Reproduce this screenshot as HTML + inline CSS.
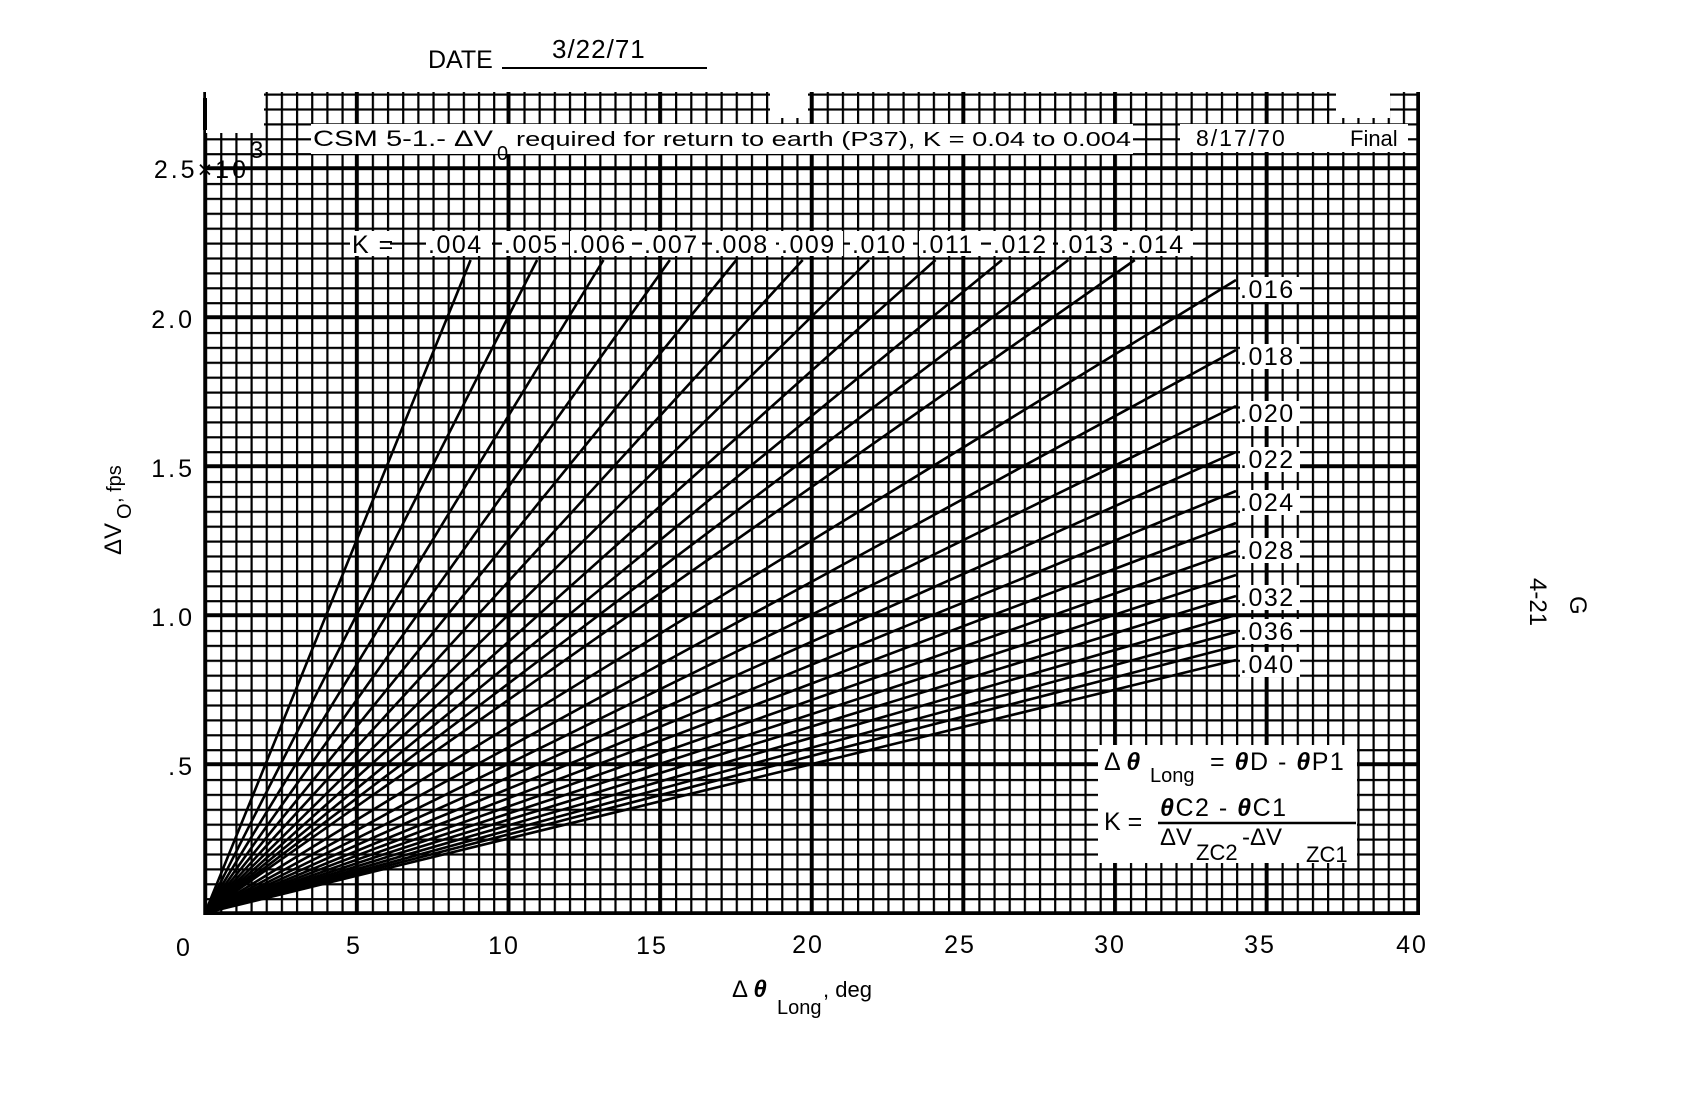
<!DOCTYPE html>
<html><head><meta charset="utf-8"><style>
html,body{margin:0;padding:0;background:#fff;}
svg{display:block;}
text{font-family:"Liberation Sans",sans-serif;fill:#000;}
</style></head><body>
<svg width="1692" height="1101" viewBox="0 0 1692 1101" xmlns="http://www.w3.org/2000/svg">
<defs>
<pattern id="g" x="205" y="913" width="15.1625" height="14.9" patternUnits="userSpaceOnUse">
<rect x="0" y="0" width="2.2" height="14.9" fill="#000"/>
<rect x="0" y="0" width="15.1625" height="2.2" fill="#000"/>
</pattern>
</defs>
<rect x="204" y="92" width="1216" height="823" fill="url(#g)"/>
<g stroke="#000" stroke-width="3.5">
<line x1="205" y1="92" x2="205" y2="915"/><line x1="356.6" y1="92" x2="356.6" y2="915"/><line x1="508.3" y1="92" x2="508.3" y2="915"/><line x1="659.9" y1="92" x2="659.9" y2="915"/><line x1="811.5" y1="92" x2="811.5" y2="915"/><line x1="963.1" y1="92" x2="963.1" y2="915"/><line x1="1114.8" y1="92" x2="1114.8" y2="915"/><line x1="1266.4" y1="92" x2="1266.4" y2="915"/><line x1="1418" y1="92" x2="1418" y2="915"/>
<line x1="205" y1="913" x2="1420" y2="913"/><line x1="205" y1="764" x2="1420" y2="764"/><line x1="205" y1="615" x2="1420" y2="615"/><line x1="205" y1="466" x2="1420" y2="466"/><line x1="205" y1="317" x2="1420" y2="317"/><line x1="205" y1="168" x2="1420" y2="168"/>
</g>
<rect x="206" y="88" width="58" height="45" fill="#fff"/>
<rect x="770" y="88" width="38" height="30" fill="#fff"/>
<rect x="1336" y="88" width="54" height="30" fill="#fff"/>
<line x1="205" y1="98" x2="205" y2="130" stroke="#000" stroke-width="4"/>
<g stroke="#000" stroke-width="2.6" fill="none">
<line x1="205" y1="913" x2="470.6" y2="260"/><line x1="205" y1="913" x2="537.1" y2="260"/><line x1="205" y1="913" x2="603.5" y2="260"/><line x1="205" y1="913" x2="669.9" y2="260"/><line x1="205" y1="913" x2="736.3" y2="260"/><line x1="205" y1="913" x2="802.7" y2="260"/><line x1="205" y1="913" x2="869.1" y2="260"/><line x1="205" y1="913" x2="935.5" y2="260"/><line x1="205" y1="913" x2="1002" y2="260"/><line x1="205" y1="913" x2="1068.4" y2="260"/><line x1="205" y1="913" x2="1134.8" y2="260"/>
<line x1="205" y1="913" x2="1236" y2="280"/><line x1="205" y1="913" x2="1236" y2="350"/><line x1="205" y1="913" x2="1236" y2="406"/><line x1="205" y1="913" x2="1236" y2="452"/><line x1="205" y1="913" x2="1236" y2="491"/><line x1="205" y1="913" x2="1236" y2="523"/><line x1="205" y1="913" x2="1236" y2="551"/><line x1="205" y1="913" x2="1236" y2="575"/><line x1="205" y1="913" x2="1236" y2="596"/><line x1="205" y1="913" x2="1236" y2="615"/><line x1="205" y1="913" x2="1236" y2="632"/><line x1="205" y1="913" x2="1236" y2="646"/><line x1="205" y1="913" x2="1236" y2="660"/>
</g>
<rect x="311" y="124" width="822" height="30" fill="#fff"/>
<text x="313" y="146" font-size="22" textLength="180" lengthAdjust="spacingAndGlyphs">CSM 5-1.- ΔV</text>
<text x="497" y="160" font-size="20">0</text>
<text x="516" y="146" font-size="20" textLength="615" lengthAdjust="spacingAndGlyphs">required for return to earth (P37), K = 0.04 to 0.004</text>
<rect x="1180" y="124" width="228" height="28" fill="#fff"/>
<text x="1196" y="146" font-size="23" letter-spacing="2">8/17/70</text>
<text x="1350" y="146" font-size="22">Final</text>
<g fill="#fff">
<rect x="350" y="231" width="40" height="25"/><rect x="426" y="231" width="66" height="25"/><rect x="502" y="231" width="60" height="25"/><rect x="570" y="231" width="62" height="25"/><rect x="642" y="231" width="60" height="25"/><rect x="712" y="231" width="64" height="25"/><rect x="779" y="231" width="64" height="25"/><rect x="850" y="231" width="63" height="25"/><rect x="919" y="231" width="62" height="25"/><rect x="991" y="231" width="62" height="25"/><rect x="1058" y="231" width="65" height="25"/><rect x="1128" y="231" width="65" height="25"/>
</g>
<g font-size="25" letter-spacing="1.5">
<text x="352" y="253">K =</text>
<text x="428" y="253">.004</text><text x="504" y="253">.005</text><text x="572" y="253">.006</text><text x="644" y="253">.007</text><text x="714" y="253">.008</text><text x="781" y="253">.009</text><text x="852" y="253">.010</text><text x="921" y="253">.011</text><text x="993" y="253">.012</text><text x="1060" y="253">.013</text><text x="1130" y="253">.014</text>
</g>
<g fill="#fff">
<rect x="1240" y="277" width="60" height="25"/><rect x="1240" y="344" width="60" height="25"/><rect x="1240" y="401" width="60" height="25"/><rect x="1240" y="447" width="60" height="25"/><rect x="1240" y="490" width="60" height="25"/><rect x="1240" y="538" width="60" height="25"/><rect x="1240" y="585" width="60" height="25"/><rect x="1240" y="619" width="60" height="25"/><rect x="1240" y="652" width="60" height="25"/>
</g>
<g font-size="25" letter-spacing="1.5">
<text x="1240" y="298">.016</text><text x="1240" y="365">.018</text><text x="1240" y="422">.020</text><text x="1240" y="468">.022</text><text x="1240" y="511">.024</text><text x="1240" y="559">.028</text><text x="1240" y="606">.032</text><text x="1240" y="640">.036</text><text x="1240" y="673">.040</text>
</g>
<rect x="1098" y="745" width="259" height="118" fill="#fff"/>
<text x="1104" y="770" font-size="25">Δ <tspan font-weight="bold" font-style="italic">θ</tspan></text>
<text x="1150" y="782" font-size="20">Long</text>
<text x="1210" y="770" font-size="25" letter-spacing="1.5">= <tspan font-weight="bold" font-style="italic">θ</tspan>D - <tspan font-weight="bold" font-style="italic">θ</tspan>P1</text>
<text x="1104" y="830" font-size="25">K =</text>
<text x="1160" y="816" font-size="25" letter-spacing="1.5"><tspan font-weight="bold" font-style="italic">θ</tspan>C2 - <tspan font-weight="bold" font-style="italic">θ</tspan>C1</text>
<line x1="1158" y1="823" x2="1356" y2="823" stroke="#000" stroke-width="2.5"/>
<text x="1160" y="845" font-size="24">ΔV</text>
<text x="1196" y="860" font-size="22">ZC2</text>
<text x="1242" y="845" font-size="24">-ΔV</text>
<text x="1306" y="862" font-size="22">ZC1</text>
<g font-size="25" text-anchor="end" letter-spacing="3">
<text x="249" y="178">2.5×10</text>
<text x="195" y="328">2.0</text>
<text x="195" y="477">1.5</text>
<text x="195" y="626">1.0</text>
<text x="195" y="775">.5</text>
</g>
<text x="250" y="158" font-size="24">3</text>
<g font-size="25" text-anchor="middle" letter-spacing="2">
<text x="184" y="956">0</text><text x="354" y="954">5</text><text x="504" y="954">10</text><text x="652" y="954">15</text><text x="808" y="953">20</text><text x="960" y="953">25</text><text x="1110" y="953">30</text><text x="1260" y="953">35</text><text x="1412" y="953">40</text>
</g>
<text x="732" y="997" font-size="24">Δ <tspan font-weight="bold" font-style="italic">θ</tspan></text>
<text x="777" y="1014" font-size="20">Long</text>
<text x="823" y="997" font-size="22">, deg</text>
<g transform="translate(121,555) rotate(-90)">
<text x="0" y="0" font-size="24">ΔV</text>
<text x="36" y="10" font-size="20">O</text>
<text x="52" y="0" font-size="20">, fps</text>
</g>
<text x="428" y="68" font-size="25">DATE</text>
<text x="552" y="58" font-size="26" letter-spacing="1">3/22/71</text>
<line x1="502" y1="68" x2="707" y2="68" stroke="#000" stroke-width="2"/>
<g transform="translate(1530,578) rotate(90)">
<text x="0" y="0" font-size="24">4-21</text>
</g>
<g transform="translate(1570,596) rotate(90)">
<text x="0" y="0" font-size="24">G</text>
</g>
</svg>
</body></html>
